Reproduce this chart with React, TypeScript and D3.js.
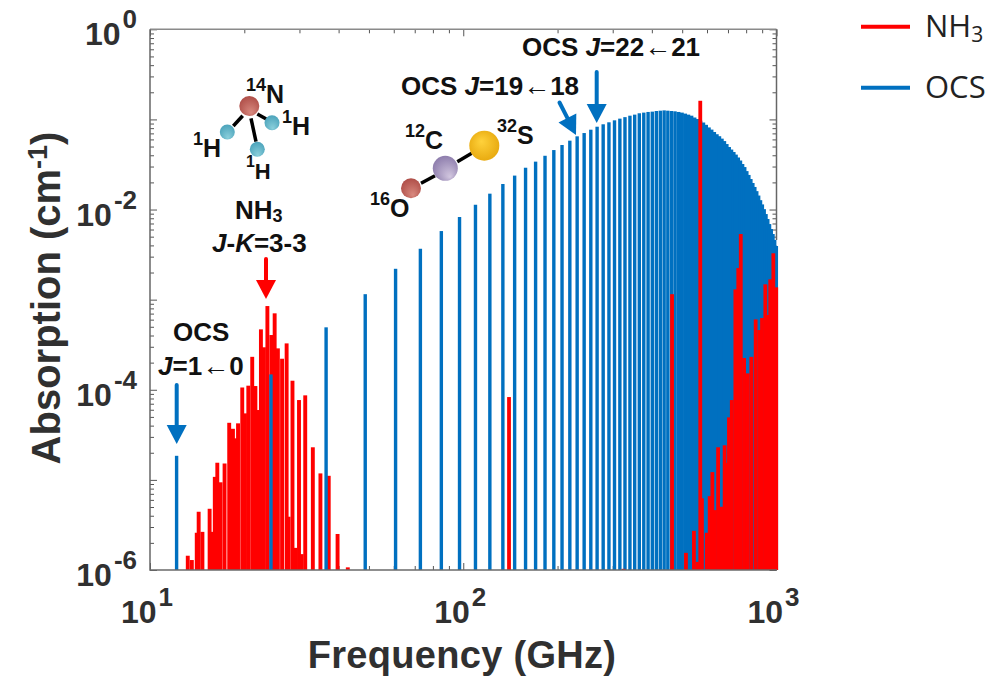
import React, { useEffect, useRef } from "react";
import * as d3 from "d3";

// OCS rotational lines, J = 1..82
const ocsFreq = [
  12.16, 24.33, 36.49, 48.65, 60.81, 72.97, 85.12, 97.3, 109.4, 121.6, 133.8, 145.9, 158.1, 170.2, 182.4, 194.6,
  206.7, 218.9, 231.0, 243.2, 255.4, 267.5, 279.7, 291.8, 304.0, 316.2, 328.3, 340.5, 352.6, 364.8, 377.0, 389.1,
  401.3, 413.4, 425.6, 437.8, 449.9, 462.1, 474.2, 486.4, 498.6, 510.7, 522.9, 535.0, 547.2, 559.4, 571.5, 583.7,
  595.8, 608.0, 620.2, 632.3, 644.5, 656.6, 668.8, 681.0, 693.1, 705.3, 717.4, 729.6, 741.8, 753.9, 766.1, 778.2,
  790.4, 802.6, 814.7, 826.9, 839.0, 851.2, 863.4, 875.5, 887.7, 899.8, 912.0, 924.2, 936.3, 948.5, 960.6, 972.8,
  985.0, 997.1,
];
const ocsAbs = [
  1.85e-5, 1.48e-4, 4.93e-4, 1.15e-3, 2.2e-3, 3.67e-3, 5.77e-3, 8.26e-3, 0.0113, 0.015, 0.0192, 0.0238, 0.0291,
  0.034, 0.0395, 0.0457, 0.052, 0.0581, 0.0649, 0.0706, 0.0769, 0.083, 0.0883, 0.0929, 0.0977, 0.102, 0.106, 0.11,
  0.113, 0.117, 0.119, 0.121, 0.122, 0.124, 0.125, 0.126, 0.125, 0.124, 0.123, 0.121, 0.119, 0.116, 0.113, 0.11,
  0.105, 0.101, 0.0968, 0.0924, 0.0871, 0.0815, 0.0771, 0.0725, 0.0685, 0.0651, 0.0612, 0.0575, 0.0533, 0.0494,
  0.0463, 0.0435, 0.0407, 0.0378, 0.035, 0.032, 0.0296, 0.0267, 0.0242, 0.0218, 0.0197, 0.0178, 0.016, 0.0143,
  0.0127, 0.0114, 0.0101, 0.00891, 0.00785, 0.0069, 0.00608, 0.00535, 0.00459, 0.00394,
];

const nh3Freq = [
  13.2, 13.6, 14.1, 14.3, 14.7, 15.5, 15.8, 16.1, 16.4, 16.8, 17.3, 17.9, 18.4, 18.8, 19.1, 19.7, 20.1, 20.6, 21.2,
  21.7, 22.2, 22.6, 23.1, 23.7, 24.4, 25.0, 25.6, 26.4, 27.3, 27.7, 28.5, 29.2, 29.9, 30.5, 31.3, 33.1, 35.0, 37.2,
  39.7, 42.8, 140, 325, 464, 514, 545, 560, 571, 578, 599, 612, 624, 636, 651, 666, 683, 693, 705, 720, 739, 755,
  769, 788, 809, 831, 858, 881, 899, 921, 942, 955, 977, 998,
];
const nh3Abs = [
  1.44e-6, 1.29e-6, 2.59e-6, 4.43e-6, 2.65e-6, 4.78e-6, 2.65e-6, 1.08e-5, 1.55e-5, 9.4e-6, 1.52e-5, 4.3e-5, 3.69e-5,
  2.89e-5, 4.24e-5, 1.06e-4, 5.47e-5, 1.11e-4, 2.32e-4, 1.1e-4, 5.96e-5, 4.68e-4, 2.96e-4, 8.49e-4, 4.05e-4, 7.05e-4,
  2.88e-4, 2.21e-4, 3.27e-4, 3.9e-6, 1.26e-4, 1.76e-6, 7.69e-5, 1.5e-6, 8.67e-5, 2.3e-5, 1.18e-5, 1.11e-5, 2.51e-6,
  1.07e-6, 8.3e-5, 1.03e-6, 1.15e-3, 1.55e-6, 2.72e-6, 1.23e-6, 0.161, 6.24e-6, 2.59e-6, 6.6e-6, 1.22e-5, 4.62e-6,
  2.3e-5, 5.03e-6, 2.42e-5, 1.54e-5, 4.94e-5, 7.69e-5, 1.3e-3, 2.24e-3, 5.35e-3, 2.25e-4, 1.52e-4, 2.32e-4, 6.04e-4,
  4.6e-4, 6.25e-4, 1.48e-3, 6.75e-4, 1.68e-3, 3.27e-3, 1.37e-3,
];

const xTickLabels = [1, 2, 3];
const yTickLabels = [0, -2, -4, -6];
const legendNames = ["NH", "OCS"];

const RED = "#ff0000";
const BLUE = "#0070c0";
const INK = "#303030";
const BOLD = "'Liberation Sans', Arial, sans-serif";

const App = () => {
  const svgRef = useRef<SVGSVGElement>(null);

  useEffect(() => {
    const svg = d3.select(svgRef.current);
    svg.selectAll("*").remove();

    const x = d3.scaleLog().domain([10, 1000]).range([150, 776.5]);
    const y = d3.scaleLog().domain([1e-6, 1]).range([570, 29.3]);

    const defs = svg.append("defs");
    const gradient = (id: string, inner: string, outer: string, fx: number, fy: number) => {
      const g = defs.append("radialGradient").attr("id", id).attr("fx", fx).attr("fy", fy).attr("r", 0.75);
      g.append("stop").attr("offset", "0%").attr("stop-color", inner);
      g.append("stop").attr("offset", "100%").attr("stop-color", outer);
    };
    gradient("gradRed", "#d98a80", "#a33d38", 0.6, 0.85);
    gradient("gradTeal", "#8cd0dc", "#3a97b2", 0.55, 0.9);
    gradient("gradPurple", "#d3c8e0", "#7a689e", 0.7, 0.85);
    gradient("gradGold", "#ffd23c", "#e09c00", 0.4, 0.35);

    // axes, ticks point into the plot on all four sides
    const decades = (v: number) => Math.abs(Math.log10(v) - Math.round(Math.log10(v))) < 1e-9;
    const drawAxis = (axis: any, ticks: number[], size: number, tx: number, ty: number) => {
      const g = svg.append("g").attr("transform", `translate(${tx}, ${ty})`);
      g.call(axis.tickValues(ticks).tickSize(size).tickFormat(() => ""));
      g.select(".domain").remove();
      g.selectAll("line").attr("stroke", "#555").attr("stroke-width", 1);
    };
    const xTicks = x.ticks();
    const yTicks = y.ticks();
    drawAxis(d3.axisBottom(x), xTicks.filter((v) => !decades(v)), -4, 0, 570);
    drawAxis(d3.axisBottom(x), xTicks.filter(decades), -7, 0, 570);
    drawAxis(d3.axisTop(x), xTicks.filter((v) => !decades(v)), -4, 0, 29.3);
    drawAxis(d3.axisTop(x), xTicks.filter(decades), -7, 0, 29.3);
    drawAxis(d3.axisLeft(y), yTicks.filter((v) => !decades(v)), -4, 150, 0);
    drawAxis(d3.axisLeft(y), yTicks.filter(decades), -7, 150, 0);
    drawAxis(d3.axisRight(y), yTicks.filter((v) => !decades(v)), -4, 776.5, 0);
    drawAxis(d3.axisRight(y), yTicks.filter(decades), -7, 776.5, 0);

    const nh3 = nh3Freq.map((f, i) => ({ f, a: nh3Abs[i] }));
    const ocs = ocsFreq.map((f, i) => ({ f, a: ocsAbs[i] }));

    const bars = (data: { f: number; a: number }[], color: string, w: number) => {
      svg
        .append("g")
        .selectAll("rect")
        .data(data)
        .join("rect")
        .attr("x", (d) => x(d.f) - w / 2)
        .attr("y", (d) => y(d.a))
        .attr("width", w)
        .attr("height", (d) => y(1e-6) - y(d.a))
        .attr("fill", color);
    };
    // low lines of NH3 sit behind OCS, the high ones in front
    bars(nh3.filter((d) => d.f < 100), RED, 3.9);
    bars(ocs.filter((d) => d.f < 480), BLUE, 3.4);
    bars(ocs.filter((d) => d.f >= 480), BLUE, 3.9);
    bars(nh3.filter((d) => d.f >= 100), RED, 3.8);

    // frame
    const frame = (x1: number, y1: number, x2: number, y2: number, color: string) =>
      svg.append("line").attr("x1", x1).attr("y1", y1).attr("x2", x2).attr("y2", y2)
        .attr("stroke", color).attr("stroke-width", 1.5);
    frame(150, 29.3, 776.5, 29.3, "#8a8a8a");
    frame(776.5, 29.3, 776.5, 240, "#666");
    frame(150, 29.3, 150, 570.7, "#666");
    frame(150, 570, 777, 570, "#6a6a6a");

    type Part = { t: string; size?: number; dy?: number; dx?: number; italic?: boolean; weight?: string };
    const label = (px: number, py: number, parts: Part[], size: number, anchor = "start", fill = "#111") => {
      const el = svg.append("text").attr("x", px).attr("y", py).attr("text-anchor", anchor)
        .attr("font-family", BOLD).attr("font-weight", "bold").attr("font-size", size).attr("fill", fill);
      parts.forEach((p) => {
        const s = el.append("tspan").text(p.t);
        if (p.size) s.attr("font-size", p.size);
        if (p.dy) s.attr("dy", p.dy);
        if (p.dx) s.attr("dx", p.dx);
        if (p.italic) s.attr("font-style", "italic");
        if (p.weight) s.attr("font-weight", p.weight);
      });
      return el;
    };

    // tick labels
    yTickLabels.forEach((e) => {
      label(137, y(10 ** e) + 16, [{ t: "10" }, { t: `${e}`, size: 26, dy: -17, dx: 2 }], 32, "end", INK);
    });
    xTickLabels.forEach((e) => {
      label(x(10 ** e) - 3, 622.7, [{ t: "10" }, { t: `${e}`, size: 26, dy: -17, dx: 2 }], 32, "middle", INK);
    });

    // axis titles
    label(462, 668, [{ t: "Frequency (GHz)" }], 38, "middle", INK).attr("letter-spacing", 0.3);
    label(0, 0, [{ t: "Absorption (cm" }, { t: "-1", size: 27, dy: -13 }, { t: ")", dy: 13 }], 40, "middle", INK)
      .attr("transform", "translate(60, 298) rotate(-90)");

    // annotations
    const arrowGlyph: Part = { t: "\u2190", size: 27, weight: "normal" };
    label(173, 341, [{ t: "OCS" }], 26);
    label(158, 375, [{ t: "J", italic: true }, { t: "=1" }, arrowGlyph, { t: "0" }], 26);
    label(235, 219, [{ t: "NH" }, { t: "3", size: 18, dy: 3 }], 26);
    label(212, 252, [{ t: "J", italic: true }, { t: "-" }, { t: "K", italic: true }, { t: "=3-3" }], 26);
    label(401, 95, [{ t: "OCS " }, { t: "J", italic: true }, { t: "=19" }, arrowGlyph, { t: "18" }], 26);
    label(522, 56, [{ t: "OCS " }, { t: "J", italic: true }, { t: "=22" }, arrowGlyph, { t: "21" }], 26);

    // atom labels
    const atom = (px: number, py: number, mass: string, name: string, size: number) =>
      label(px, py, [{ t: mass, size: size * 0.72, dy: -12 }, { t: name, dy: 12 }], size);
    atom(246, 103, "14", "N", 25);
    atom(282, 135, "1", "H", 25);
    atom(193, 157, "1", "H", 25);
    atom(246, 179, "1", "H", 22);
    atom(405, 149, "12", "C", 25);
    atom(370, 217, "16", "O", 25);
    atom(497, 144, "32", "S", 25);

    // molecule sketches
    const bond = (a: number[]) =>
      svg.append("line").attr("x1", a[0]).attr("y1", a[1]).attr("x2", a[2]).attr("y2", a[3])
        .attr("stroke", "#000").attr("stroke-width", 3.5);
    const ball = (cx: number, cy: number, r: number, id: string) =>
      svg.append("circle").attr("cx", cx).attr("cy", cy).attr("r", r).attr("fill", `url(#${id})`);
    bond([242.7, 115.7, 233.3, 126]);
    bond([257.3, 114, 266.7, 119.3]);
    bond([251, 118.3, 256, 141.7]);
    bond([421, 183.3, 435, 175.7]);
    bond([457.3, 161.7, 471.7, 153.3]);
    ball(249.3, 106, 10, "gradRed");
    ball(272, 122.7, 7.5, "gradTeal");
    ball(227.3, 132, 7.5, "gradTeal");
    ball(257.3, 149.3, 7.5, "gradTeal");
    ball(411, 188.3, 10, "gradRed");
    ball(445.3, 168.3, 12.5, "gradPurple");
    ball(484.3, 145.7, 15, "gradGold");

    // pointer arrows
    const pointer = (x1: number, y1: number, x2: number, y2: number, color: string) => {
      const len = Math.hypot(x2 - x1, y2 - y1);
      const g = svg.append("g")
        .attr("transform", `translate(${x2}, ${y2}) rotate(${(Math.atan2(y2 - y1, x2 - x1) * 180) / Math.PI})`);
      g.append("line").attr("x1", -len).attr("y1", 0).attr("x2", -18).attr("y2", 0)
        .attr("stroke", color).attr("stroke-width", 4).attr("stroke-linecap", "round");
      g.append("path").attr("d", "M0,0L-19,-10L-19,10Z").attr("fill", color);
    };
    pointer(176.7, 385, 176.7, 444, BLUE);
    pointer(266, 259, 266, 299, RED);
    pointer(596.7, 72, 596.7, 123, BLUE);
    pointer(559.5, 102.5, 576, 135, BLUE);

    // legend
    const legendColors = [RED, BLUE];
    const legendY = [26.7, 87.7];
    legendNames.forEach((name, i) => {
      svg.append("line").attr("x1", 861).attr("x2", 910).attr("y1", legendY[i]).attr("y2", legendY[i])
        .attr("stroke", legendColors[i]).attr("stroke-width", 4);
      const t = svg.append("text").attr("x", 925).attr("y", legendY[i] + 10.5)
        .attr("font-family", "'Open Sans', sans-serif").attr("font-size", 31).attr("fill", "#222").text(name);
      if (name === "NH") t.append("tspan").attr("font-size", 21).attr("dy", 5).text("3");
    });
  }, []);

  return <svg ref={svgRef} width={992} height={677} style={{ position: "absolute", left: 0, top: 0, background: "#fff" }}></svg>;
};

export default App;
